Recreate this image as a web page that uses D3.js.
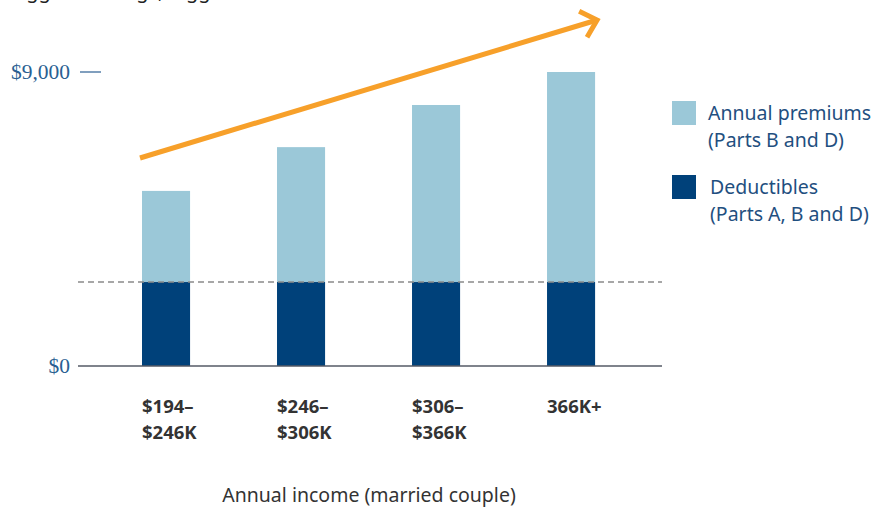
<!DOCTYPE html>
<html>
<head>
<meta charset="utf-8">
<script src="https://cdn.jsdelivr.net/npm/d3@7"></script>
<style>
body { margin:0; background:#fff; }
svg { display:block; }
</style>
</head>
<body>
<svg id="chart" width="878" height="510"></svg>
<script>
// data
var categories = ["$194–\n$246K", "$246–\n$306K", "$306–\n$366K", "366K+"];
var deductibles = [2570, 2570, 2570, 2570];
var premiums = [2790, 4130, 5420, 6430];
var yTicks = [0, 9000];
var legendLabels = [["Annual premiums", "(Parts B and D)"], ["Deductibles", "(Parts A, B and D)"]];
var colors = {premium:"#9bc8d8", deduct:"#00417a", orange:"#f7a02a", blueText:"#2a5f92"};

var svg = d3.select("#chart");

var yScale = d3.scaleLinear()
    .domain([0, 9000])
    .range([366, 72]);

var xScale = d3.scaleBand()
    .domain(d3.range(categories.length))
    .range([74.5, 662.6])
    .paddingInner(0.644)
    .paddingOuter(0.5);

// cut-off title at top edge
svg.append("text")
    .text("Bigger earnings, bigger costs")
    .attr("x", 8)
    .attr("y", -2)
    .attr("font-family", "Noto Sans")
    .attr("font-size", 20)
    .attr("fill", "#222");

var bars = svg.append("g");
bars.selectAll("rect.premium")
    .data(categories)
    .enter()
    .append("rect")
    .attr("class", "premium")
    .attr("x", function(d,i) { return xScale(i); })
    .attr("width", xScale.bandwidth())
    .attr("y", function(d,i) { return yScale(deductibles[i] + premiums[i]); })
    .attr("height", function(d,i) { return yScale(deductibles[i]) - yScale(deductibles[i] + premiums[i]); })
    .attr("fill", colors.premium);

bars.selectAll("rect.deduct")
    .data(categories)
    .enter()
    .append("rect")
    .attr("class", "deduct")
    .attr("x", function(d,i) { return xScale(i); })
    .attr("width", xScale.bandwidth())
    .attr("y", function(d,i) { return yScale(deductibles[i]); })
    .attr("height", function(d,i) { return yScale(0) - yScale(deductibles[i]); })
    .attr("fill", colors.deduct);

// dashed deductible line drawn over the bars
svg.append("line")
    .attr("x1", 78).attr("x2", 662)
    .attr("y1", yScale(deductibles[0])).attr("y2", yScale(deductibles[0]))
    .attr("stroke", "#8a8a8a")
    .attr("stroke-width", 1.5)
    .attr("stroke-dasharray", "6,4");

// baseline
svg.append("line")
    .attr("x1", 78).attr("x2", 662)
    .attr("y1", yScale(0)).attr("y2", yScale(0))
    .attr("stroke", "#555a66")
    .attr("stroke-width", 1.5);

// y tick labels
var ticks = svg.append("g");
ticks.selectAll("text")
    .data(yTicks)
    .enter()
    .append("text")
    .text(function(d) { return "$" + d3.format(",")(d); })
    .attr("x", 70)
    .attr("y", function(d) { return yScale(d) + 7; })
    .attr("text-anchor", "end")
    .attr("font-family", "Liberation Serif")
    .attr("font-size", 21.5)
    .attr("fill", colors.blueText);
svg.append("line")
    .attr("x1", 80).attr("x2", 101)
    .attr("y1", yScale(9000)).attr("y2", yScale(9000))
    .attr("stroke", colors.blueText)
    .attr("stroke-width", 1.2);

// category labels
var catLabels = svg.append("g");
catLabels.selectAll("text")
    .data(categories)
    .enter()
    .append("text")
    .attr("x", function(d,i) { return xScale(i); })
    .attr("y", 413)
    .attr("font-family", "Noto Sans")
    .attr("font-weight", "bold")
    .attr("font-size", 18.5)
    .attr("fill", "#333")
    .each(function(d) {
        var t = d3.select(this);
        var x = t.attr("x");
        d.split("\n").forEach(function(line, k) {
            t.append("tspan").attr("x", x).attr("dy", k == 0 ? 0 : 26).text(line);
        });
    });

// axis title
svg.append("text")
    .text("Annual income (married couple)")
    .attr("x", 369)
    .attr("y", 502)
    .attr("text-anchor", "middle")
    .attr("font-family", "Noto Sans")
    .attr("font-size", 19.5)
    .attr("fill", "#333");

// orange trend arrow
var ends = [
    {x: xScale(0) - 2, y: 158},
    {x: xScale(3) + xScale.bandwidth() + 2, y: 20}
];
var arrowLine = d3.line()
    .x(function(p) { return p.x; })
    .y(function(p) { return p.y; });
svg.append("path")
    .attr("d", arrowLine(ends))
    .attr("stroke", colors.orange)
    .attr("stroke-width", 5)
    .attr("fill", "none");
var ang = Math.atan2(ends[1].y - ends[0].y, ends[1].x - ends[0].x);
var tip = ends[1];
var headLen = 20;
var head = [
    {x: tip.x - headLen*Math.cos(ang - 0.75), y: tip.y - headLen*Math.sin(ang - 0.75)},
    tip,
    {x: tip.x - headLen*Math.cos(ang + 0.75), y: tip.y - headLen*Math.sin(ang + 0.75)}
];
svg.append("path")
    .attr("d", arrowLine(head))
    .attr("stroke", colors.orange)
    .attr("stroke-width", 5)
    .attr("stroke-linejoin", "miter")
    .attr("fill", "none");

// legend
var legend = svg.append("g")
    .attr("transform", "translate(672,101)");
var items = legend.selectAll("g")
    .data(legendLabels)
    .enter()
    .append("g")
    .attr("transform", function(d,i) { return "translate(0," + (i*74) + ")"; });
items.append("rect")
    .attr("width", 24)
    .attr("height", 24)
    .attr("fill", function(d,i) { return i == 0 ? colors.premium : colors.deduct; });
items.append("text")
    .attr("font-family", "Noto Sans")
    .attr("font-size", 19.5)
    .attr("fill", "#1f4f80")
    .each(function(d, i) {
        var t = d3.select(this);
        d.forEach(function(line, k) {
            t.append("tspan")
                .attr("x", i == 0 ? 36 : 38)
                .attr("y", 19 + k*27)
                .text(line);
        });
    });
</script>
</body>
</html>
